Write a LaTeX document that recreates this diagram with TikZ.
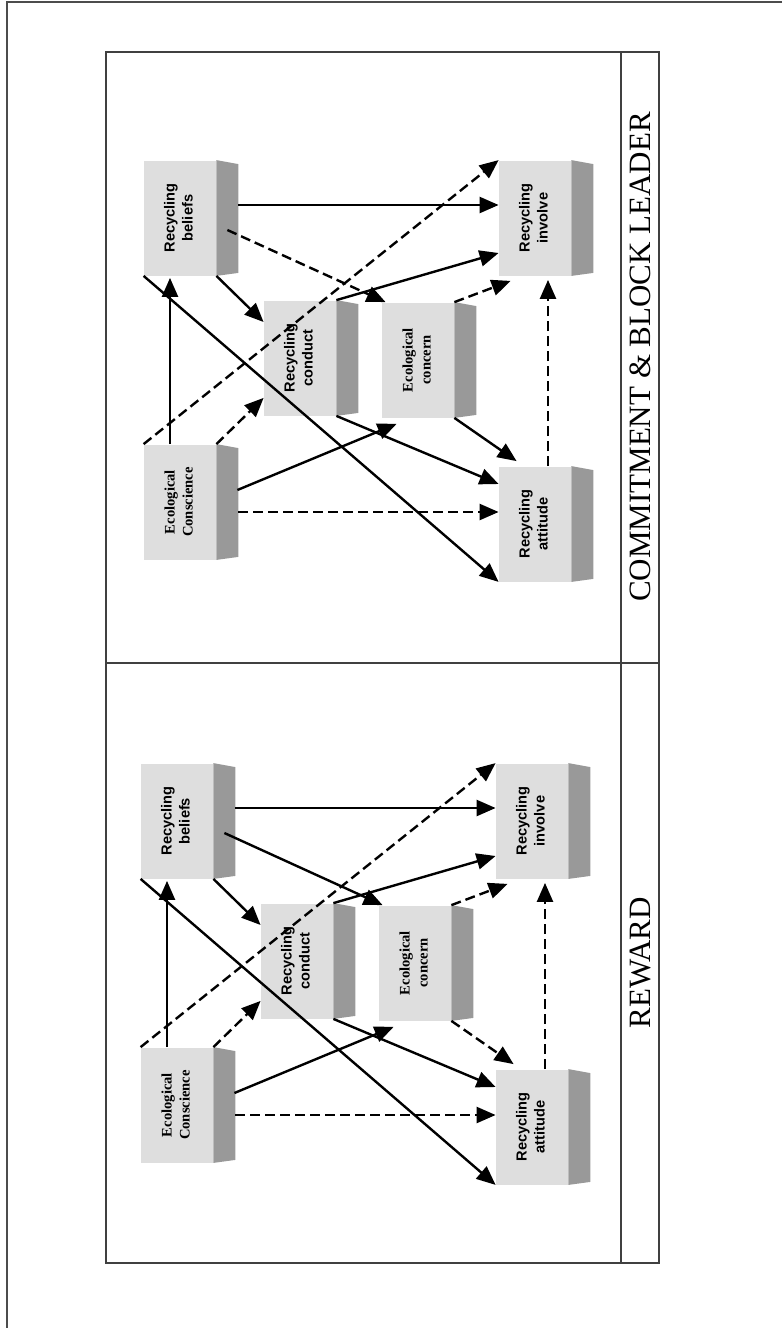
\documentclass[tikz,border=0pt]{standalone}
\usepackage{fontspec}
\usepackage{graphicx}
\setmainfont{Liberation Serif}
\newfontfamily\boxsans{Liberation Sans}
\usepackage{tikz}
\usetikzlibrary{arrows.meta, calc}

\newcommand{\blocktext}[3]{\rotatebox{90}{#1\fontsize{7.3}{9}\selectfont\bfseries
    \begin{tabular}{@{}c@{}}#2\\#3\end{tabular}}}

\begin{document}
\begin{tikzpicture}[x=0.5pt, y=-0.5pt,
    >={Triangle[length=9.5pt,width=8pt]},
    block/.style={rectangle, fill=gray!26, minimum width=36pt,
        minimum height=57.5pt, inner sep=0pt},
    sideface/.style={fill=gray!80},
    frame/.style={draw=black!75, line width=0.9pt},
    link/.style={->, line width=1.2pt},
    dlink/.style={->, line width=1.2pt, dash pattern=on 5pt off 2.5pt}]

    \useasboundingbox (0,0) rectangle (782,1328);
    \draw[black!70, line width=0.7pt] (782,2) -- (7,2) -- (7,1328);

    % frame and label strip
    \draw[frame] (106,52) rectangle (659,1263);
    \draw[frame] (621,52) -- (621,1263);
    \draw[frame] (106,663) -- (659,663);
    \node[rotate=90, font=\fontsize{15.5}{18}\selectfont] (lbc) at (640,357)
        {COMMITMENT \& BLOCK LEADER};
    \node[rotate=90, font=\fontsize{15.5}{18}\selectfont] (lbr) at (640,963)
        {REWARD};

    % c = commitment panel, r = reward panel
    \foreach \p/\dx/\dy/\bcn/\cna in {c/0/0/dlink/link, r/-3/603/link/dlink} {
        \begin{scope}[shift={(\dx,\dy)}]
            \node[block] (\p B)  at (180,218) {\blocktext{\boxsans}{Recycling}{beliefs}};
            \node[block] (\p Cd) at (300,358) {\blocktext{\boxsans}{Recycling}{conduct}};
            \node[block] (\p Cn) at (418,360) {\blocktext{}{Ecological}{concern}};
            \node[block] (\p Cs) at (180,502) {\blocktext{}{Ecological}{Conscience}};
            \node[block] (\p I)  at (535,218) {\blocktext{\boxsans}{Recycling}{involve}};
            \node[block] (\p A)  at (535,524) {\blocktext{\boxsans}{Recycling}{attitude}};
        \end{scope}

        \foreach \n in {B,Cd,Cn,Cs,I,A}
            \fill[sideface] (\p\n.north east) -- ++(11pt,-2pt)
                -- ([shift={(11pt,1.5pt)}]\p\n.south east) -- (\p\n.south east) -- cycle;

        \draw[link] ([shift={(11pt,6.5pt)}]\p B.east) -- ([yshift=6.5pt]\p I.west);
        \draw[\bcn] ([shift={(5.5pt,-6pt)}]\p B.east) -- ([xshift=2pt]\p Cn.north west);
        \draw[link] (\p B.south east) -- ([yshift=18pt]\p Cd.west);
        \draw[link] (\p B.south west) -- (\p A.south west);
        \draw[dlink] (\p Cs.north west) -- (\p I.north west);
        \draw[link] (\p Cd.north east) -- ([yshift=-17.5pt]\p I.west);
        \draw[dlink] (\p Cn.north east) -- ([shift={(6pt,-2.5pt)}]\p I.south west);
        \draw[dlink] ([xshift=6.5pt]\p A.north) -- ([shift={(6.5pt,-2pt)}]\p I.south);
        \draw[\cna] (\p Cn.south east) -- ([shift={(9pt,2.5pt)}]\p A.north west);
        \draw[link] (\p Cd.south east) -- ([yshift=20pt]\p A.west);
        \draw[dlink] ([shift={(11pt,-5pt)}]\p Cs.east) -- ([yshift=6pt]\p A.west);
        \draw[link] ([shift={(10.5pt,6pt)}]\p Cs.east) -- ([shift={(7.5pt,-3pt)}]\p Cn.south west);
        \draw[dlink] (\p Cs.north east) -- ([yshift=9pt]\p Cd.south west);
        \draw[link] ([xshift=-5pt]\p Cs.north) -- ([shift={(-5pt,-1pt)}]\p B.south);
    }
\end{tikzpicture}
\end{document}
